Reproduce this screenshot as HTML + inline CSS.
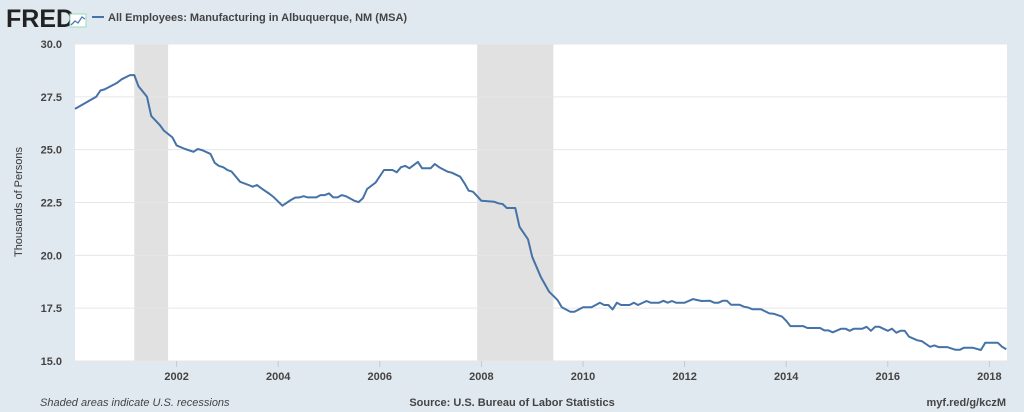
<!DOCTYPE html>
<html><head><meta charset="utf-8"><style>
body{margin:0;width:1024px;height:412px;background:#e1e9f0;font-family:"Liberation Sans",sans-serif;overflow:hidden}
svg{display:block}
</style></head><body>
<svg id="c" width="1024" height="412">
<text x="6" y="27" font-size="25" font-weight="bold" fill="#222">FRED</text>
<path d="M70 14 h16 v13 h-16z" fill="#fff" stroke="#9db" stroke-width="1"/>
<path d="M71 25 l4-4 3 2 4-6 3 2" fill="none" stroke="#4a7ab3" stroke-width="1.3"/>
<line x1="92" y1="17" x2="104" y2="17" stroke="#4572a7" stroke-width="2"/>
<text x="108" y="21" font-size="11" font-weight="bold" fill="#444">All Employees: Manufacturing in Albuquerque, NM (MSA)</text>
<rect x="75" y="44" width="932" height="317" fill="#fff"/>
<g id="rec"></g><g id="grid"></g><g id="xt"></g>
<path id="line" fill="none" stroke="#4572a7" stroke-width="2" stroke-linejoin="round"/>
<text transform="translate(22,202) rotate(-90)" text-anchor="middle" font-size="11" fill="#333">Thousands of Persons</text>
<text x="40" y="406" font-size="11" font-style="italic" fill="#444">Shaded areas indicate U.S. recessions</text>
<text x="512" y="406" text-anchor="middle" font-size="11" font-weight="bold" fill="#444">Source: U.S. Bureau of Labor Statistics</text>
<text x="1006" y="406" text-anchor="end" font-size="11" font-weight="bold" fill="#444">myf.red/g/kczM</text>
</svg>
<script>
const months=[0,5,6,7,10,11,13,14,15,17,18,20,21,23,24,26,28,29,30,32,33,34,35,36,37,39,41,42,43,44,46,47,49,51,52,53,54,55,57,58,59,60,61,62,63,64,66,67,68,69,71,73,75,76,77,78,79,81,82,84,85,86,88,89,91,92,93,94,95,96,99,100,101,102,104,105,107,108,110,112,114,115,117,118,120,122,124,125,126,127,128,129,131,132,133,135,136,138,139,140,141,142,144,146,148,150,151,152,153,154,155,157,158,159,160,162,164,165,167,168,169,172,173,176,177,178,179,181,182,183,184,186,187,188,189,190,192,193,194,195,196,197,199,200,202,203,204,206,208,209,210,212,214,215,218,219,220];
const values=[26.93,27.5,27.8,27.85,28.17,28.33,28.53,28.53,28.0,27.5,26.6,26.17,25.9,25.58,25.2,25.03,24.9,25.03,24.98,24.8,24.38,24.23,24.17,24.04,23.96,23.48,23.33,23.25,23.33,23.17,22.9,22.74,22.35,22.62,22.73,22.74,22.8,22.74,22.74,22.85,22.85,22.93,22.74,22.74,22.85,22.8,22.58,22.52,22.7,23.14,23.44,24.04,24.04,23.93,24.17,24.23,24.12,24.42,24.12,24.12,24.32,24.17,23.96,23.91,23.72,23.41,23.06,23.01,22.8,22.58,22.54,22.46,22.43,22.24,22.24,21.35,20.76,19.93,18.99,18.28,17.88,17.54,17.33,17.33,17.54,17.54,17.76,17.65,17.65,17.44,17.76,17.65,17.65,17.76,17.65,17.84,17.76,17.76,17.85,17.76,17.84,17.76,17.76,17.93,17.84,17.85,17.76,17.76,17.85,17.85,17.66,17.66,17.57,17.53,17.45,17.45,17.25,17.24,17.1,16.9,16.65,16.65,16.56,16.56,16.45,16.45,16.36,16.53,16.53,16.43,16.53,16.53,16.62,16.43,16.62,16.62,16.43,16.53,16.34,16.43,16.43,16.15,15.98,15.94,15.67,15.74,15.66,15.66,15.53,15.53,15.63,15.63,15.52,15.86,15.86,15.67,15.56];
const recStart=[14,95];
const recEnd=[22,113];
const yTicks=[15.0,17.5,20.0,22.5,25.0,27.5,30.0];
const xTickYears=[2002,2004,2006,2008,2010,2012,2014,2016,2018];
const NS='http://www.w3.org/2000/svg';
const X=m=>75+m*(50.8/12), Y=v=>44+(30-v)*317/15;
function mk(t,a,p){const e=document.createElementNS(NS,t);for(const k in a)e.setAttribute(k,a[k]);document.getElementById(p).appendChild(e);return e;}
recStart.forEach((s,i)=>{const r=mk('rect',{x:X(s),y:44,width:X(recEnd[i])-X(s),height:317,fill:'#e1e1e1'},'rec');

});
yTicks.forEach(v=>{const l=mk('line',{x1:75,x2:1007,y1:Y(v),y2:Y(v),stroke:'#e6e6e6'},'grid');


const t=mk('text',{x:62,y:Y(v)+4,'text-anchor':'end','font-size':11,'font-weight':'bold',fill:'#444'},'grid');t.textContent=v.toFixed(1);

});
xTickYears.forEach(y=>{const x=X((y-2000)*12);const l=mk('line',{x1:x,x2:x,y1:361,y2:367,stroke:'#c0cad6'},'xt');


const t=mk('text',{x:x,y:380,'text-anchor':'middle','font-size':11,'font-weight':'bold',fill:'#444'},'xt');t.textContent=y;

});
document.getElementById('line').setAttribute('d',months.map((m,i)=>(i?'L':'M')+X(m).toFixed(1)+' '+Y(values[i]).toFixed(1)).join(''));
</script>
</body></html>
